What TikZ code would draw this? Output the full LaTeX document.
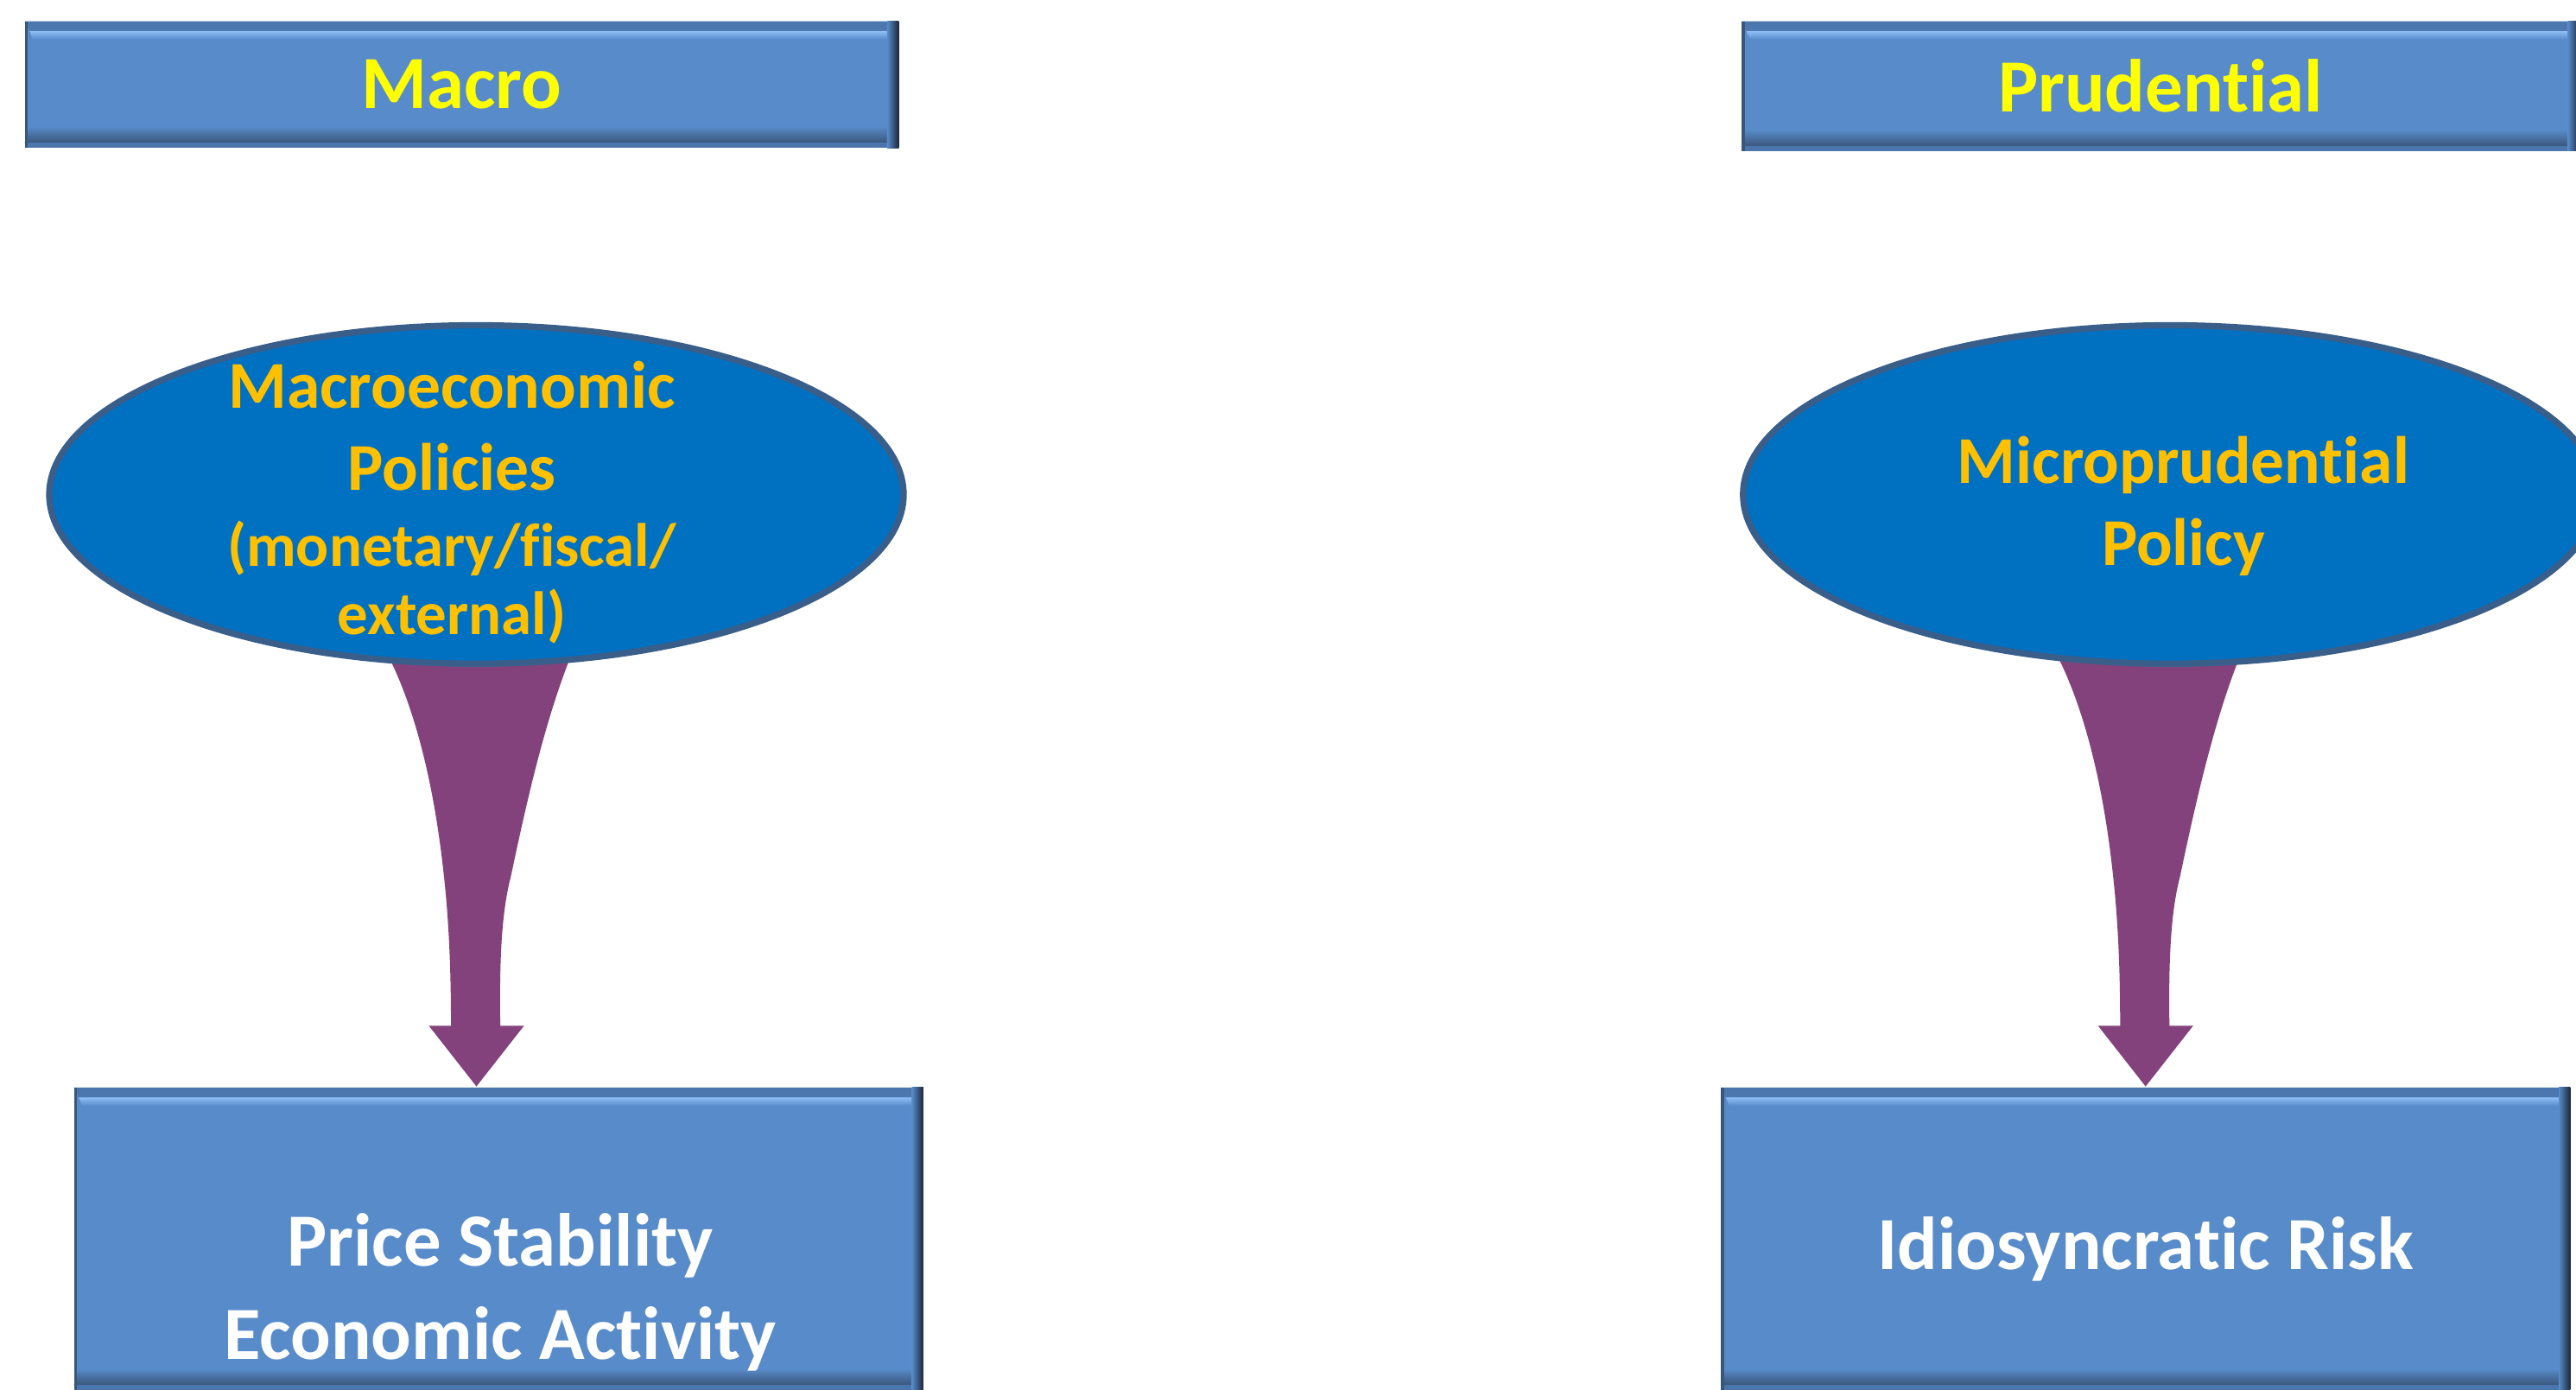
\documentclass[tikz,border=0pt]{standalone}
\usepackage{fontspec}
\setmainfont[Ligatures={NoCommon,NoRequired,NoContextual}]{Carlito}
\usetikzlibrary{calc,shapes.geometric}

\definecolor{boxblue}{RGB}{88,139,202}
\definecolor{boxlight}{RGB}{141,190,245}
\definecolor{boxedge}{RGB}{74,117,173}
\definecolor{boxshade}{RGB}{58,86,122}
\definecolor{boxnavy}{RGB}{28,40,58}
\definecolor{ellblue}{RGB}{0,112,192}
\definecolor{ellline}{RGB}{58,94,138}
\definecolor{funnelcol}{RGB}{132,66,124}
\definecolor{headyellow}{RGB}{255,255,0}
\definecolor{polorange}{RGB}{255,192,0}

\pgfdeclarelayer{back}
\pgfsetlayers{back,main}

\newcommand{\bb}{path picture bounding box}
\tikzset{
  bevel/.style={fill=boxblue, inner sep=0pt, path picture={
      \shade[top color=boxedge, bottom color=boxlight] (\bb.north west) -- (\bb.north east)
        -- ($(\bb.north east)+(-0.03,-0.06)$) -- ($(\bb.north west)+(0.03,-0.06)$) -- cycle;
      \shade[top color=boxlight, bottom color=boxblue] ($(\bb.north west)+(0.03,-0.06)$) -- ($(\bb.north east)+(-0.03,-0.06)$)
        -- ($(\bb.north east)+(-0.05,-0.11)$) -- ($(\bb.north west)+(0.05,-0.11)$) -- cycle;
      \shade[top color=boxblue, bottom color=boxshade] ($(\bb.south west)+(0.03,0.13)$) -- ($(\bb.south east)+(-0.03,0.13)$)
        -- ($(\bb.south east)+(0,0.03)$) -- ($(\bb.south west)+(0,0.03)$) -- cycle;
      \fill[boxedge] (\bb.south west) rectangle ($(\bb.south east)+(0,0.03)$);
      \shade[left color=boxblue, right color=boxnavy] ($(\bb.north east)+(-0.07,0)$) rectangle (\bb.south east);
      \fill[boxshade] (\bb.south west) rectangle ($(\bb.north west)+(0.02,0)$);
    }},
  head/.style={bevel, minimum width=5.32cm, minimum height=0.77cm, text=headyellow,
    font=\bfseries\fontsize{13}{15.6}\selectfont},
  target/.style={bevel, minimum width=5.17cm, minimum height=1.84cm},
  targettext/.style={align=center, text=white, font=\bfseries\fontsize{13}{16.2}\selectfont},
  policy/.style={ellipse, draw=ellline, line width=1.1pt, fill=ellblue, inner sep=0pt,
    minimum width=5.2cm, minimum height=2.06cm},
  poltext/.style={align=center, text=polorange, font=\bfseries\fontsize{11.6}{14.2}\selectfont}
}

% funnel shaped arrow, tip at #1
\newcommand{\funnel}[1]{%
  \begin{pgfonlayer}{back}
    \fill[funnelcol, shift={#1}] (0,0) -- (0.29,0.37) -- (0.145,0.37)
      .. controls (0.14,0.75) and (0.15,1.05) .. (0.21,1.28)
      .. controls (0.33,1.85) and (0.45,2.35) .. (0.63,2.75)
      -- (-0.61,2.75)
      .. controls (-0.42,2.45) and (-0.27,1.95) .. (-0.2,1.3)
      .. controls (-0.16,0.95) and (-0.155,0.6) .. (-0.155,0.37)
      -- (-0.29,0.37) -- cycle;
  \end{pgfonlayer}}

\begin{document}
\begin{tikzpicture}
    \path[use as bounding box, clip] (0,0) rectangle (15.68,8.46);

    % headers
    \node[head] (macrohead) at (2.81,7.945) {Macro};
    \node[head, minimum width=5.10cm, minimum height=0.79cm] (prudhead) at (13.15,7.935) {Prudential};

    % policies
    \node[policy] (macropol) at (2.90,5.45) {};
    \node[poltext] (macrotxt) at (2.75,5.40) {Macroeconomic\\Policies\\[-1.1pt]
      {\fontsize{10.6}{12.6}\selectfont (monetary/fiscal/}\\[-2.3pt]
      {\fontsize{10.6}{12.6}\selectfont external)}};
    \node[policy] (micropol) at (13.21,5.45) {};
    \node[poltext] (microtxt) at (13.29,5.38) {Microprudential\\Policy};

    % targets
    \node[target] (pricebox) at (3.035,0.92) {};
    \node[targettext] (pricetxt) at (3.045,0.595) {Price Stability\\Economic Activity};
    \node[target] (idiobox) at (13.06,0.92) {};
    \node[targettext] (idiotxt) at (13.06,0.86) {Idiosyncratic Risk};

    \funnel{(macropol.south |- pricebox.north)}
    \funnel{(idiobox.north)}
\end{tikzpicture}
\end{document}
